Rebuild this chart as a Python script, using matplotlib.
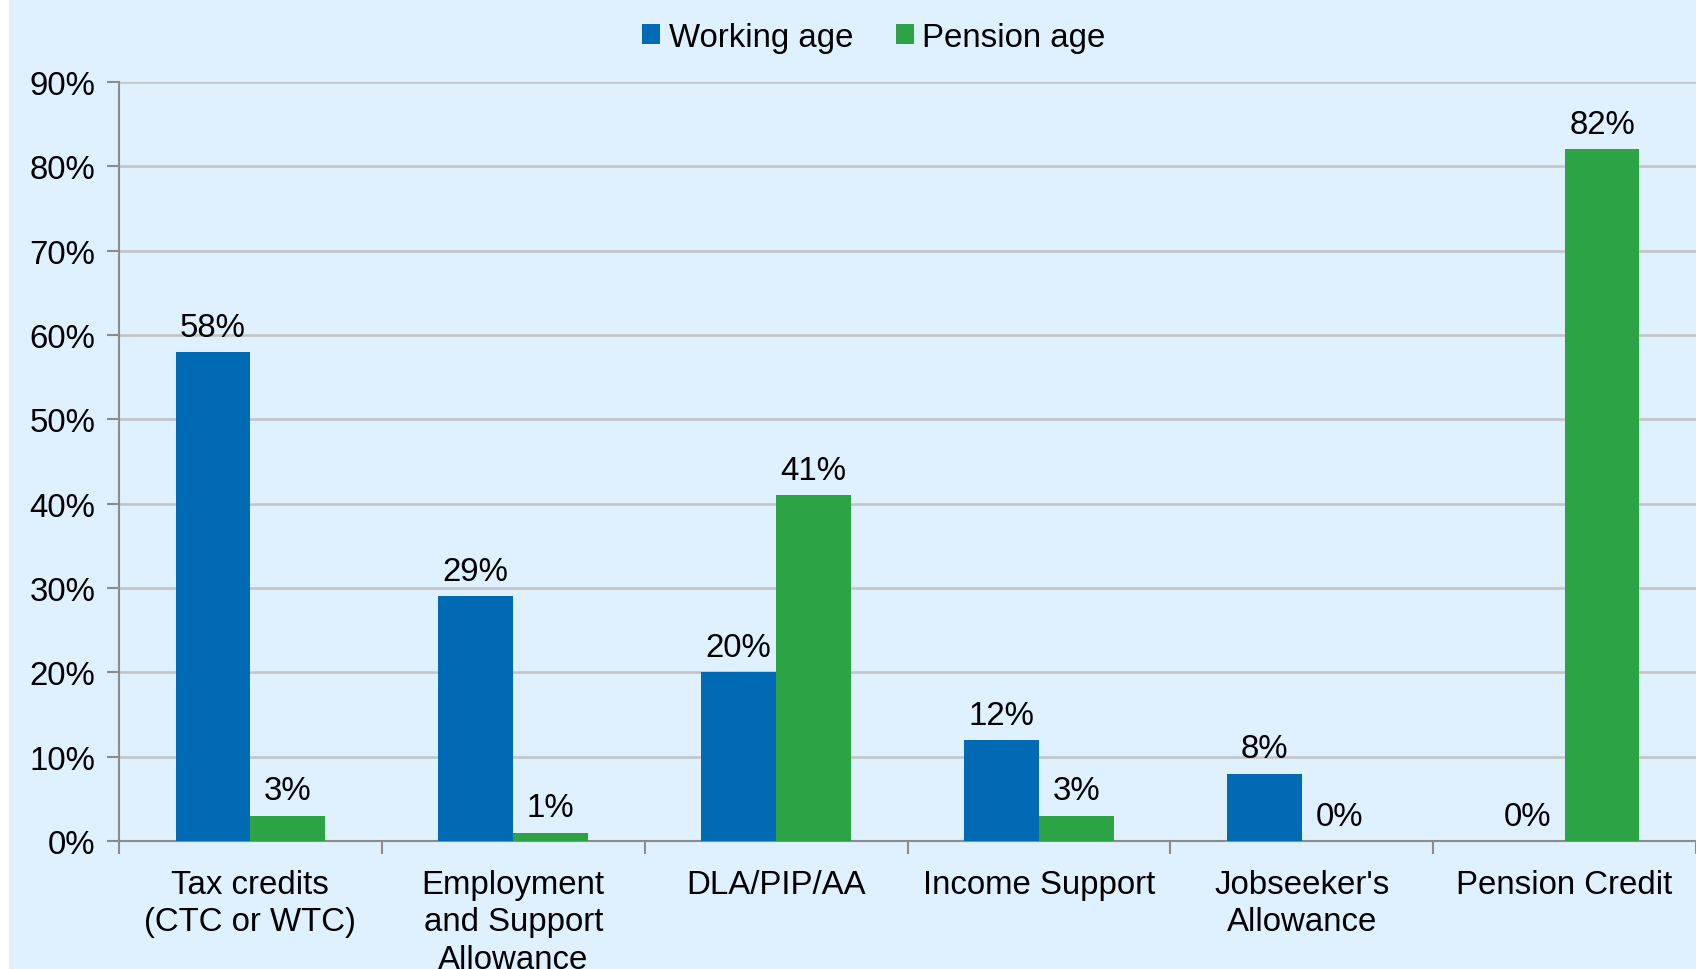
import numpy as np
import matplotlib
matplotlib.use("Agg")
import matplotlib.pyplot as plt
from matplotlib.patches import Rectangle

categories = [
    "Tax credits\n(CTC or WTC)",
    "Employment\nand Support\nAllowance",
    "DLA/PIP/AA",
    "Income Support",
    "Jobseeker's\nAllowance",
    "Pension Credit",
]
working_age = [58, 29, 20, 12, 8, 0]
pension_age = [3, 1, 41, 3, 0, 82]
yticks = [0, 10, 20, 30, 40, 50, 60, 70, 80, 90]

BG = "#DFF1FE"
BLUE = "#006AB5"
GREEN = "#2CA344"
GRID = "#C3C3C3"
AXIS = "#8C8C8C"

plt.rcParams["font.family"] = ["Liberation Sans", "DejaVu Sans"]
FS = 23.8

fig = plt.figure(figsize=(16.96, 9.70), dpi=100)
fig.patch.set_facecolor("white")
# light blue panel (white strip on left edge)
fig.patches.append(Rectangle((9 / 1696, 0), 1 - 9 / 1696, 1,
                             transform=fig.transFigure, facecolor=BG,
                             edgecolor="none", zorder=-10))

ax = fig.add_axes([119 / 1696, 1 - 842 / 970, 1 - 119 / 1696, (842 - 83) / 970])
ax.set_facecolor(BG)
ax.patch.set_alpha(0)

x = np.arange(len(categories))
w = 0.285
b1 = ax.bar(x - w / 2, working_age, w, color=BLUE, label="Working age", zorder=3)
b2 = ax.bar(x + w / 2, pension_age, w, color=GREEN, label="Pension age", zorder=3)

for bars, vals in ((b1, working_age), (b2, pension_age)):
    for r, v in zip(bars, vals):
        ax.text(r.get_x() + r.get_width() / 2, v + 1.1, f"{v}%",
                ha="center", va="bottom", fontsize=FS, color="black")

ax.set_xlim(-0.5, len(categories) - 0.5)
ax.set_ylim(0, 90)
ax.set_yticks(yticks)
ax.set_yticklabels([f"{t}%" for t in yticks], fontsize=FS)
ax.yaxis.grid(True, color=GRID, linewidth=1.8, zorder=0)
ax.set_axisbelow(True)

ax.set_xticks(x)
ax.set_xticklabels(categories, fontsize=FS, linespacing=1.28, va="top")
ax.tick_params(axis="x", length=0, pad=20)
ax.set_xticks(np.arange(-0.5, len(categories), 1.0), minor=True)
ax.tick_params(axis="x", which="minor", length=9, width=1.5, color=AXIS)
ax.tick_params(axis="y", length=9, width=1.5, color=AXIS, pad=8)

for s in ("top", "right"):
    ax.spines[s].set_visible(False)
for s in ("left", "bottom"):
    ax.spines[s].set_color(AXIS)
    ax.spines[s].set_linewidth(1.5)

leg = fig.legend(handles=[b1, b2], loc="center", bbox_to_anchor=(874 / 1696, 1 - 38 / 970),
                 ncol=2, frameon=False, fontsize=FS, handlelength=0.55, handleheight=0.55,
                 handletextpad=0.25, columnspacing=1.3)

fig.savefig("out.png", dpi=100, facecolor=fig.get_facecolor())
